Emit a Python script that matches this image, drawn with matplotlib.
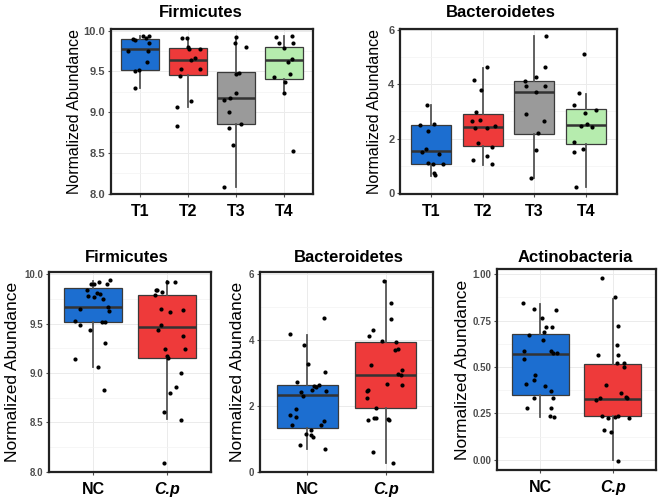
import numpy as np
import matplotlib
matplotlib.use("Agg")
import matplotlib.pyplot as plt
from matplotlib.ticker import MultipleLocator

plt.rcParams['font.family'] = ['Liberation Sans', 'DejaVu Sans']

# ---------------- data ----------------
groups_top = ["T1", "T2", "T3", "T4"]
groups_bot = ["NC", "C.p"]

# Firmicutes (top)
fir_T1 = [9.94, 9.935, 9.915, 9.895, 9.89, 9.85, 9.755, 9.75, 9.62, 9.52, 9.50, 9.30]
fir_T2 = [9.905, 9.905, 9.80, 9.78, 9.77, 9.67, 9.64, 9.53, 9.53, 9.44, 9.14, 9.06, 8.83]
fir_T3 = [9.92, 9.85, 9.80, 9.48, 9.47, 9.235, 9.17, 9.15, 9.00, 8.86, 8.81, 8.60, 8.08]
fir_T4 = [9.93, 9.92, 9.85, 9.85, 9.79, 9.65, 9.62, 9.47, 9.43, 9.37, 9.235, 8.52]
fir_top_lo = [9.30, 9.06, 8.08, 9.26]
fir_top_q1 = [9.52, 9.45, 8.86, 9.41]
fir_top_med = [9.78, 9.645, 9.17, 9.635]
fir_top_q3 = [9.895, 9.79, 9.49, 9.80]
fir_top_hi = [9.94, 9.905, 9.92, 9.93]

# Bacteroidetes (top)
bac_T1 = [3.25, 2.56, 2.52, 2.30, 1.64, 1.53, 1.43, 1.13, 1.09, 1.07, 0.74, 0.66]
bac_T2 = [4.62, 4.15, 3.80, 2.98, 2.70, 2.67, 2.48, 2.40, 2.40, 1.85, 1.70, 1.37, 1.21, 1.07]
bac_T3 = [5.77, 4.62, 4.27, 4.11, 3.93, 3.93, 3.70, 2.91, 2.64, 2.22, 1.59, 0.58]
bac_T4 = [5.10, 3.66, 3.22, 3.07, 2.95, 2.56, 2.46, 2.45, 1.88, 1.61, 1.52, 0.22]
bac_top_lo = [0.64, 1.04, 0.58, 0.22]
bac_top_q1 = [1.09, 1.73, 2.19, 1.82]
bac_top_med = [1.54, 2.45, 3.70, 2.52]
bac_top_q3 = [2.52, 2.91, 4.11, 3.10]
bac_top_hi = [3.24, 4.61, 5.77, 3.64]

# Firmicutes (bottom)
fir_NC = [9.94, 9.92, 9.905, 9.90, 9.90, 9.84, 9.81, 9.80, 9.78, 9.77, 9.75, 9.67,
          9.65, 9.63, 9.53, 9.52, 9.52, 9.49, 9.44, 9.30, 9.14, 9.06, 8.83]
fir_Cp = [9.92, 9.92, 9.845, 9.84, 9.82, 9.79, 9.65, 9.635, 9.62, 9.49, 9.44, 9.37,
          9.24, 9.24, 9.17, 9.15, 9.00, 8.855, 8.80, 8.60, 8.52, 8.09]
fir_bot_lo = [9.06, 8.53]
fir_bot_q1 = [9.517, 9.15]
fir_bot_med = [9.669, 9.47]
fir_bot_q3 = [9.861, 9.79]
fir_bot_hi = [9.93, 9.93]

# Bacteroidetes (bottom)
bac_NC = [4.66, 4.17, 3.83, 3.28, 3.03, 2.73, 2.64, 2.59, 2.58, 2.48, 2.44, 2.41, 2.31,
          1.89, 1.73, 1.65, 1.55, 1.43, 1.41, 1.25, 1.15, 1.10, 1.06, 0.80, 0.68]
bac_Cp = [5.80, 5.13, 4.64, 4.31, 4.13, 3.97, 3.95, 3.72, 3.70, 3.25, 3.10, 2.96, 2.92,
          2.66, 2.63, 2.49, 2.45, 2.24, 1.93, 1.64, 1.62, 1.61, 1.57, 1.57, 0.61, 0.25]
bac_bot_lo = [0.70, 0.27]
bac_bot_q1 = [1.32, 1.93]
bac_bot_med = [2.32, 2.93]
bac_bot_q3 = [2.62, 3.94]
bac_bot_hi = [4.15, 5.80]

# Actinobacteria (bottom)
act_NC = [0.842, 0.812, 0.805, 0.763, 0.713, 0.713, 0.69, 0.674, 0.645, 0.588, 0.584,
          0.573, 0.573, 0.543, 0.457, 0.43, 0.407, 0.398, 0.371, 0.332, 0.332, 0.278,
          0.278, 0.238, 0.233]
act_Cp = [0.978, 0.876, 0.719, 0.620, 0.563, 0.563, 0.523, 0.523, 0.498, 0.405, 0.362,
          0.339, 0.335, 0.332, 0.321, 0.238, 0.235, 0.233, 0.224, 0.224, 0.16, 0.152,
          -0.005]
act_bot_lo = [0.233, 0.0]
act_bot_q1 = [0.349, 0.235]
act_bot_med = [0.570, 0.330]
act_bot_q3 = [0.677, 0.518]
act_bot_hi = [0.839, 0.867]

# ---------------- style ----------------
C_BLUE = "#1C6ED0"
C_RED = "#EE3A3A"
C_GRAY = "#9A9A9A"
C_GREEN = "#B6ECAE"
TICK_GRAY = "#4D4D4D"

W, H = 666, 503
fig = plt.figure(figsize=(W / 100, H / 100), dpi=100)
fig.patch.set_facecolor("white")

rng = np.random.default_rng(7)


def px_axes(left, top, right, bottom):
    return fig.add_axes([left / W, 1 - bottom / H, (right - left) / W, (bottom - top) / H])


def panel(ax, labels, series, lo, q1, med, q3, hi, colors, ylim, major, minor,
          fmt, title, title_xy, ylab_x, ylab_size, ytick_size, box_w=0.78):
    n = len(labels)
    pos = np.arange(1, n + 1)
    stats = []
    for i in range(n):
        stats.append(dict(whislo=lo[i], q1=q1[i], med=med[i], q3=q3[i],
                          whishi=hi[i], fliers=[]))
    bp = ax.bxp(stats, positions=pos, widths=box_w, patch_artist=True,
                showcaps=False, showfliers=False,
                boxprops=dict(edgecolor="#3A3A3A", linewidth=0.9),
                whiskerprops=dict(color="#555555", linewidth=1.3),
                medianprops=dict(color="#333333", linewidth=1.8),
                zorder=2)
    for patch, c in zip(bp["boxes"], colors):
        patch.set_facecolor(c)
    for i, vals in enumerate(series):
        xs = pos[i] + rng.uniform(-0.25, 0.25, len(vals))
        ax.scatter(xs, vals, s=9, color="black", zorder=3, linewidths=0)
    ax.set_xlim(0.4, n + 0.6)
    ax.set_ylim(*ylim)
    ax.yaxis.set_major_locator(MultipleLocator(major))
    ax.yaxis.set_minor_locator(MultipleLocator(minor))
    ax.yaxis.set_major_formatter(plt.FormatStrFormatter(fmt))
    ax.set_xticks(pos)
    ax.set_xticklabels(labels, fontsize=11.5, fontweight="bold", color="black")
    for tl in ax.get_xticklabels():
        if tl.get_text() == "C.p":
            tl.set_fontstyle("italic")
    ax.tick_params(axis="y", which="major", labelsize=ytick_size, labelcolor=TICK_GRAY,
                   color=TICK_GRAY, length=2.5, width=0.8, pad=1.5)
    ax.tick_params(axis="y", which="minor", length=0)
    ax.tick_params(axis="x", which="major", color=TICK_GRAY, length=2.5, width=0.8, pad=5)
    for tl in ax.get_yticklabels():
        tl.set_fontweight("bold")
    ax.grid(True, which="major", color="#EBEBEB", linewidth=0.7, zorder=0)
    ax.grid(True, which="minor", axis="y", color="#F3F3F3", linewidth=0.5, zorder=0)
    ax.set_axisbelow(True)
    for s in ax.spines.values():
        s.set_linewidth(1.6)
        s.set_color("#222222")
    ax.set_ylabel("Normalized Abundance", fontsize=ylab_size, color="black")
    ax.yaxis.set_label_coords(ylab_x, 0.5)
    ax.text(title_xy[0], title_xy[1], title, transform=ax.transAxes, ha="center",
            va="center", fontsize=12, fontweight="bold", color="black")


# Top-left Firmicutes
ax1 = px_axes(111, 29, 313, 194)
panel(ax1, groups_top, [fir_T1, fir_T2, fir_T3, fir_T4], fir_top_lo, fir_top_q1,
      fir_top_med, fir_top_q3, fir_top_hi, [C_BLUE, C_RED, C_GRAY, C_GREEN],
      (7.995, 10.02), 0.5, 0.25, "%.1f", "Firmicutes", (0.446, 1.103), -0.144, 11.5, 8)

# Top-right Bacteroidetes
ax2 = px_axes(400, 29, 617, 194)
panel(ax2, groups_top, [bac_T1, bac_T2, bac_T3, bac_T4], bac_top_lo, bac_top_q1,
      bac_top_med, bac_top_q3, bac_top_hi, [C_BLUE, C_RED, C_GRAY, C_GREEN],
      (-0.02, 6.02), 2, 1, "%d", "Bacteroidetes", (0.465, 1.103), -0.083, 11.5, 8)

# Bottom-left Firmicutes
ax3 = px_axes(49, 272, 211, 472)
panel(ax3, groups_bot, [fir_NC, fir_Cp], fir_bot_lo, fir_bot_q1, fir_bot_med,
      fir_bot_q3, fir_bot_hi, [C_BLUE, C_RED], (7.997, 10.023), 0.5, 0.25, "%.1f",
      "Firmicutes", (0.481, 1.07), -0.179, 12.5, 7)

# Bottom-middle Bacteroidetes
ax4 = px_axes(260, 272, 433, 472)
panel(ax4, groups_bot, [bac_NC, bac_Cp], bac_bot_lo, bac_bot_q1, bac_bot_med,
      bac_bot_q3, bac_bot_hi, [C_BLUE, C_RED], (-0.01, 6.06), 2, 1, "%d",
      "Bacteroidetes", (0.514, 1.07), -0.087, 12.5, 7)

# Bottom-right Actinobacteria
ax5 = px_axes(497, 269, 656, 470)
panel(ax5, groups_bot, [act_NC, act_Cp], act_bot_lo, act_bot_q1, act_bot_med,
      act_bot_q3, act_bot_hi, [C_BLUE, C_RED], (-0.054, 1.027), 0.25, 0.125, "%.2f",
      "Actinobacteria", (0.49, 1.055), -0.17, 12.5, 7)

fig.savefig("out.png", dpi=100)
